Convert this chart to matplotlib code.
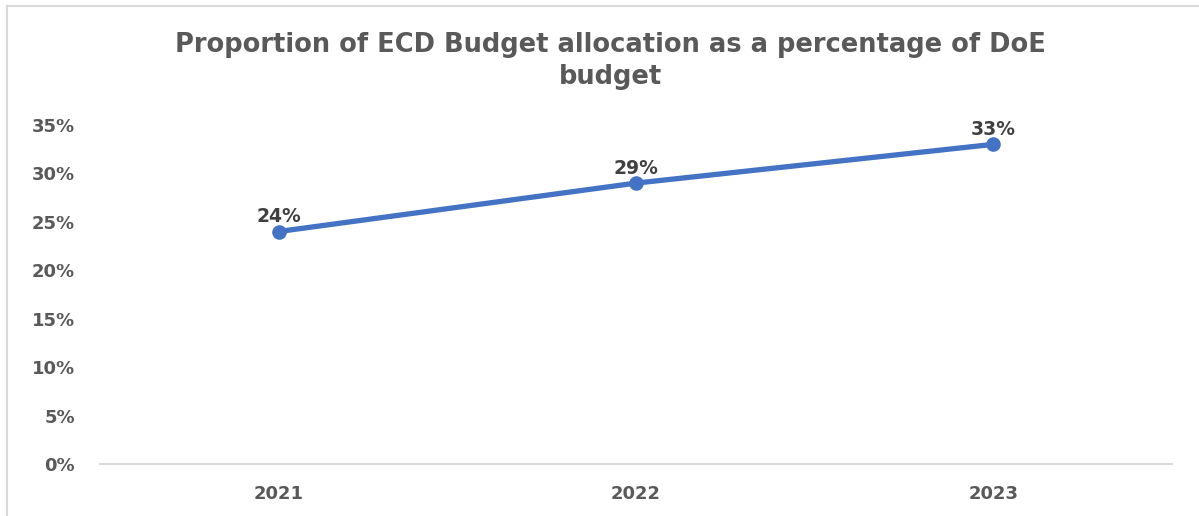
import matplotlib
matplotlib.use("Agg")
import matplotlib.pyplot as plt
from matplotlib.lines import Line2D
from matplotlib.ticker import FuncFormatter

years = ["2021", "2022", "2023"]
shares = [0.24, 0.29, 0.33]
value_labels = ["24%", "29%", "33%"]
title = "Proportion of ECD Budget allocation as a percentage of DoE\nbudget"

plt.rcParams['font.family'] = ['DejaVu Sans']

fig = plt.figure(figsize=(11.99, 5.16), dpi=100)
ax = fig.add_axes([0.0834, 0.1008, 0.9775 - 0.0834, 0.7578 - 0.1008])

x = list(range(len(years)))
ax.plot(x, shares, color="#4472C4", linewidth=3.8, marker="o", markersize=9.5,
        solid_capstyle="round", zorder=3)
for xi, yi, lab in zip(x, shares, value_labels):
    ax.annotate(lab, (xi, yi), xytext=(0, 4), textcoords="offset points",
                ha="center", va="bottom", fontsize=13.5, fontweight="bold",
                color="#404040", zorder=4)

ax.set_xlim(-0.5, 2.5)
ax.set_ylim(0, 0.35)
ax.set_xticks(x)
ax.set_xticklabels(years)
ax.set_yticks([0, 0.05, 0.10, 0.15, 0.20, 0.25, 0.30, 0.35])
ax.yaxis.set_major_formatter(FuncFormatter(lambda v, p: f"{round(v*100)}%"))
for lab in ax.get_xticklabels() + ax.get_yticklabels():
    lab.set_fontweight("bold")
    lab.set_color("#595959")
    lab.set_fontsize(13)
ax.tick_params(axis="both", length=0)
ax.tick_params(axis="x", pad=15)
ax.tick_params(axis="y", pad=18)
for side in ["top", "right", "left"]:
    ax.spines[side].set_visible(False)
ax.spines["bottom"].set_color("#D9D9D9")
ax.spines["bottom"].set_linewidth(1.5)

fig.text(0.509, 1 - 61/516, title, ha="center", va="center", fontsize=18.5,
         fontweight="bold", color="#595959", linespacing=1.3)

# outer chart frame (top and left visible)
fig.add_artist(Line2D([7/1199, 1.0], [1 - 6/516, 1 - 6/516], transform=fig.transFigure,
                      color="#D9D9D9", linewidth=1.5))
fig.add_artist(Line2D([7/1199, 7/1199], [0.0, 1 - 6/516], transform=fig.transFigure,
                      color="#D9D9D9", linewidth=1.5))

fig.savefig("out.png", dpi=100)
